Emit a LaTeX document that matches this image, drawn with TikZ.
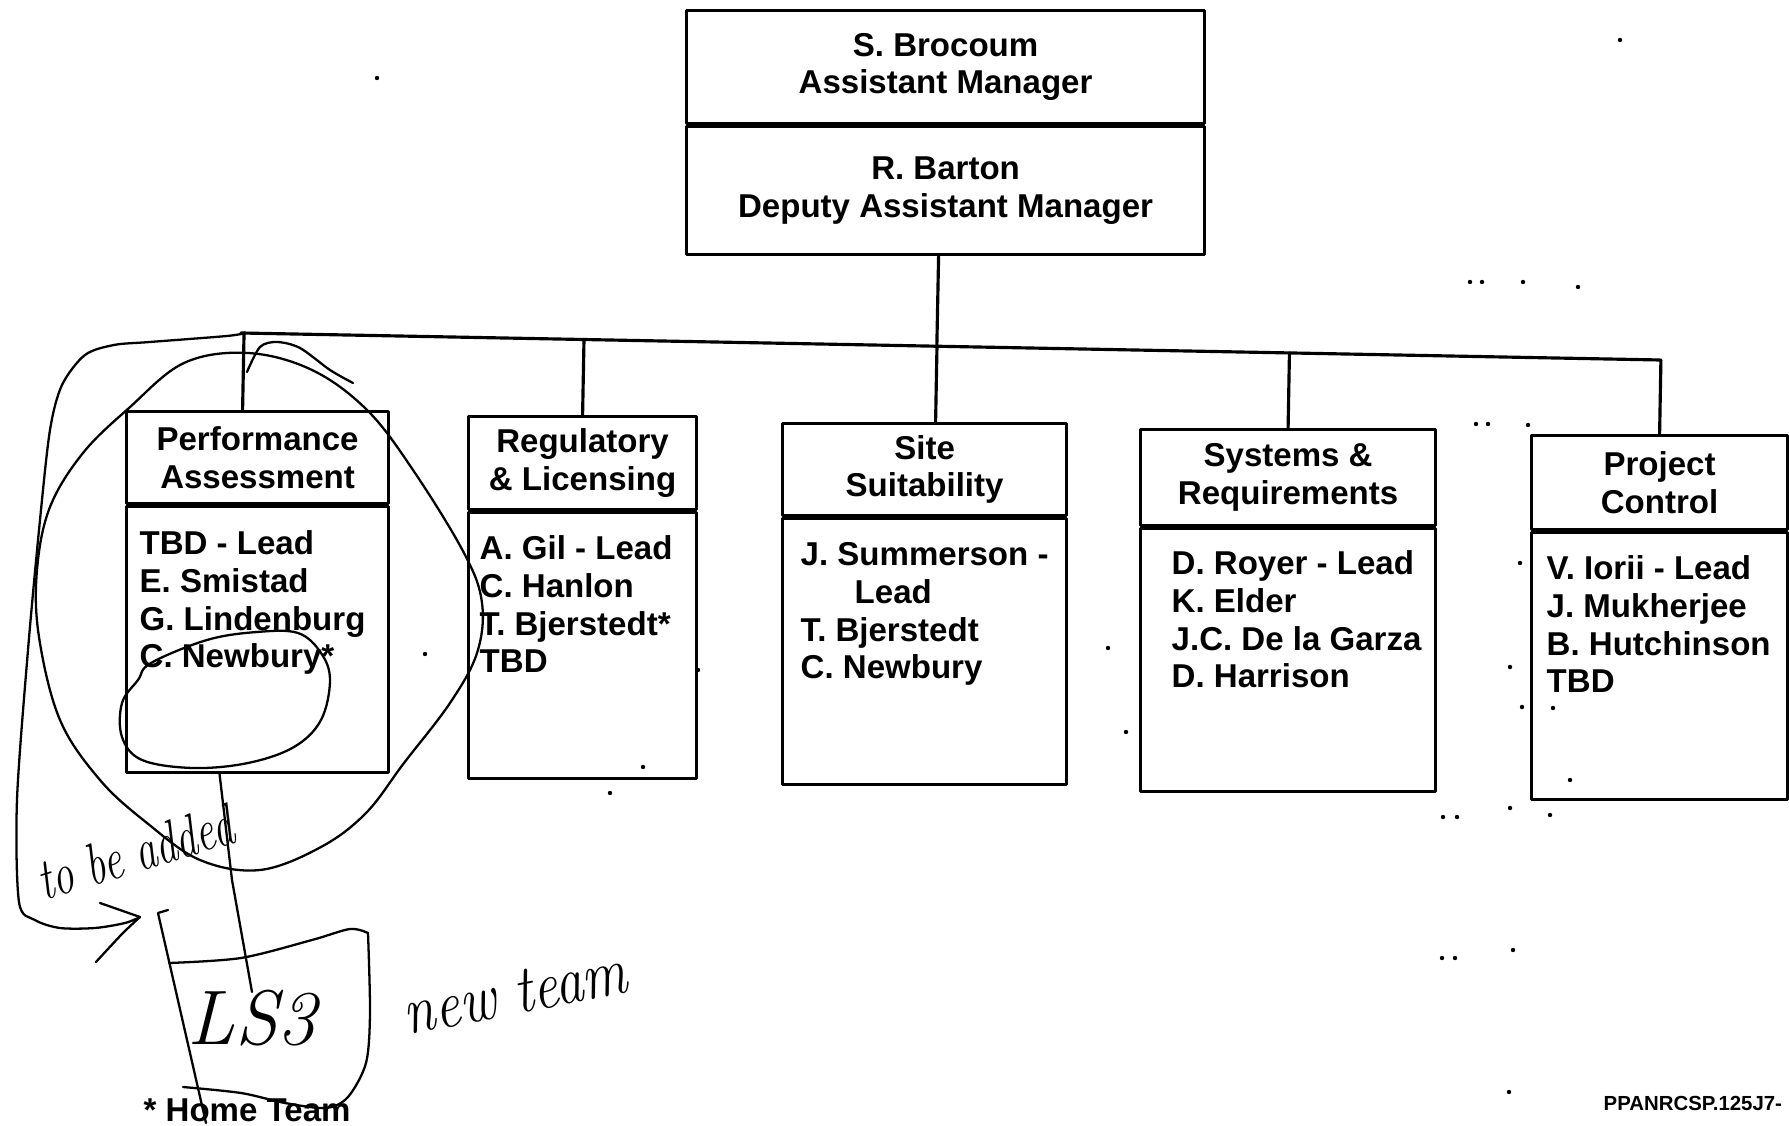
\documentclass[tikz,border=0pt]{standalone}
\usepackage{fontspec}
\newfontfamily\orgsans{Liberation Sans}
\usetikzlibrary{calc}

\newcommand\orgtext{\orgsans\bfseries\fontsize{9.4}{10.7}\selectfont}
\newcommand\handtext[1]{\itshape\fontsize{#1}{#1}\selectfont}

\begin{document}
\begin{tikzpicture}[x=0.1mm, y=-0.1mm, line join=round, line cap=round,
  unit/.style={draw, line width=0.9pt, inner sep=0pt, align=center,
               anchor=north west, font=\orgtext},
  crew/.style={inner sep=0pt, align=left, anchor=north west, font=\orgtext},
  link/.style={line width=0.9pt},
  pen/.style={line width=0.65pt},
  scrawl/.style={inner sep=0pt}]

\useasboundingbox (0,0) rectangle (1789,1126);

% top office
\node[unit, minimum width=51.8mm, minimum height=11.3mm] (mgr) at (685,9)
  {S. Brocoum\\Assistant Manager};
\node[unit, minimum width=51.8mm, minimum height=12.8mm] (dep) at (mgr.south west)
  {R. Barton\\Deputy Assistant Manager};

% departments: heading, then the box with the names
\node[unit, minimum width=26.2mm, minimum height=9.2mm] (pa) at (125,410)
  {Performance\\Assessment};
\node[unit, minimum width=26.2mm, minimum height=26.6mm] (paBody) at (pa.south west) {};
\node[crew] (paList) at ([shift={(14,25)}]paBody.north west)
  {TBD - Lead\\E. Smistad\\G. Lindenburg\\C. Newbury*};

\node[unit, minimum width=22.8mm, minimum height=9.3mm] (rl) at (467,415)
  {Regulatory\\\& Licensing};
\node[unit, minimum width=22.8mm, minimum height=26.6mm] (rlBody) at (rl.south west) {};
\node[crew] (rlList) at ([shift={(12,24)}]rlBody.north west)
  {A. Gil - Lead\\C. Hanlon\\T. Bjerstedt*\\TBD};

\node[unit, minimum width=28.4mm, minimum height=9.2mm] (ss) at (781,422)
  {Site\\Suitability};
\node[unit, minimum width=28.4mm, minimum height=26.6mm] (ssBody) at (ss.south west) {};
\node[crew] (ssList) at ([shift={(19,25)}]ssBody.north west)
  {J. Summerson -\\\hspace*{5.4mm}Lead\\T. Bjerstedt\\C. Newbury};

\node[unit, minimum width=29.5mm, minimum height=9.6mm] (sr) at (1139,428)
  {Systems \&\\Requirements};
\node[unit, minimum width=29.5mm, minimum height=26.3mm] (srBody) at (sr.south west) {};
\node[crew] (srList) at ([shift={(32,23)}]srBody.north west)
  {D. Royer - Lead\\K. Elder\\J.C. De la Garza\\D. Harrison};

\node[unit, minimum width=25.6mm, minimum height=9.4mm] (pc) at (1530,434)
  {Project\\Control};
\node[unit, minimum width=25.6mm, minimum height=26.7mm] (pcBody) at (pc.south west) {};
\node[crew] (pcList) at ([shift={(16,24)}]pcBody.north west)
  {V. Iorii - Lead\\J. Mukherjee\\B. Hutchinson\\TBD};

% bus (the scan is a little skewed)
\coordinate (busL) at (241,333);
\coordinate (busR) at (1660,360);
\draw[link] (busL) -- (busR);
\coordinate (depFoot) at ([xshift=-0.7mm]dep.south);
\draw[link] (depFoot) -- ($(busL)!(depFoot)!(busR)$);
\foreach \n/\dx in {pa/-1.5mm, rl/0mm, ss/1.1mm, sr/0mm, pc/0mm}{
  \coordinate (\n Top) at ([xshift=\dx]\n.north);
  \draw[link] (\n Top) -- ($(busL)!(\n Top)!(busR)$);
}

% handwritten notes
\draw[pen] plot[smooth cycle, tension=0.6] coordinates {
  (248,353) (312,370) (367,410) (413,470) (464,553) (482,603) (477,653)
  (450,703) (404,763) (366,813) (321,847) (260,870) (200,860) (147,823)
  (100,780) (60,720) (39,637) (37,570) (50,507) (83,453) (129,408) (184,363)};
\draw[pen] plot[smooth cycle, tension=0.6] coordinates {
  (151,663) (207,640) (257,632) (298,633) (321,653) (330,680) (321,720)
  (294,747) (248,763) (193,768) (142,760) (122,737) (122,703) (138,680)};
\draw[pen] plot[smooth] coordinates {
  (247,372) (260,347) (277,342) (300,348) (330,370) (353,383)};
\draw[pen] plot[smooth, tension=0.5] coordinates {
  (245,333) (227,336) (150,342) (114,345) (85,355) (62,385) (50,430)
  (40,520) (28,650) (17,800) (19,902) (35,920) (60,928) (95,928)
  (125,923) (140,917)};
\draw[pen] (100,903) -- (140,917);
\draw[pen] plot[smooth] coordinates {(140,917) (122,934) (96,962)};
\draw[pen] ([xshift=-3.8mm]paBody.south) -- (232,880) -- (252,992);
\draw[pen] (168,910) -- (158,913) -- (206,1123);
\draw[pen] plot[smooth] coordinates {(169,963) (241,958) (312,940) (350,929) (368,933)};
\draw[pen] plot[smooth] coordinates {
  (368,933) (370,1013) (366,1063) (348,1097) (326,1108) (285,1103)
  (241,1093) (183,1087)};

\node[scrawl, rotate=17] (toBeAdded) at (135,852)
  {\handtext{12}\scalebox{1}[1.4]{to be added}};
\node[scrawl] (ls) at (252,1018) {\handtext{22}LS3};
\node[scrawl, rotate=11] (newTeam) at (515,993)
  {\handtext{16}\scalebox{1}[1.2]{new team}};

% printed footnotes
\node[crew, anchor=base west] (homeTeam) at (143,1121) {* Home Team};
\node[crew, anchor=base west, font=\orgsans\bfseries\fontsize{5.8}{7}\selectfont]
  (docCode) at (1603,1110) {PPANRCSP.125J7-};

% specks from the scan
\foreach \x/\y in {377/78, 1620/40, 1470/282, 1482/282, 1523/282, 1578/287,
                   1476/424, 1488/424, 1528/425, 1520/563, 1510/667, 1522/707,
                   1553/708, 1570/780, 1510/808, 1550/815, 1443/817, 1457/817,
                   425/654, 643/767, 610/793, 698/670, 1108/648, 1126/732,
                   1513/950, 1442/958, 1455/958, 1509/1092}{
  \fill (\x,\y) circle[radius=0.22mm];
}

\end{tikzpicture}
\end{document}
